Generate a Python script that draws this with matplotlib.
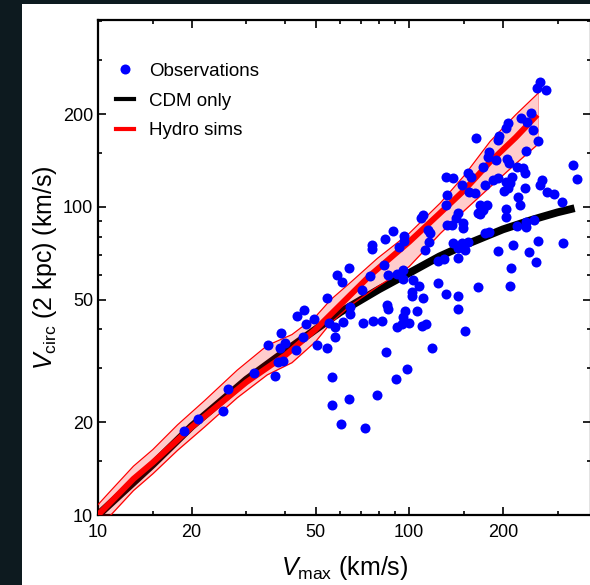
import matplotlib
matplotlib.use("Agg")
import matplotlib.pyplot as plt
from matplotlib.patches import Rectangle
from matplotlib.lines import Line2D
from matplotlib.ticker import FixedLocator, NullFormatter, FixedFormatter

plt.rcParams['font.family'] = ['Liberation Sans', 'DejaVu Sans']
plt.rcParams['mathtext.fontset'] = 'custom'
plt.rcParams['mathtext.rm'] = 'Liberation Sans'
plt.rcParams['mathtext.it'] = 'Liberation Sans:italic'

# ---------------- data ----------------
cdm_x = [10, 15, 20, 30, 40, 50, 60, 80, 100, 125, 150, 200, 250, 300, 340]
cdm_y = [10, 14.6, 19.4, 27.5, 34, 40, 45.5, 54, 61, 69, 75, 84.5, 91, 96, 99]

hydro_x = [10, 13, 15, 20, 30, 40, 50, 60, 75, 100, 125, 150, 182, 220, 258]
hydro_y = [10, 13.1, 14.8, 19.3, 27, 33, 40, 48, 60, 77, 95, 113, 140, 168, 199]

band_x = [10, 11, 13, 15, 18, 22, 28, 35, 42, 50, 56, 65, 79, 100, 126, 150, 182, 220, 260]
band_lo = [9.4, 10.0, 12.0, 13.6, 16.2, 19.3, 24.0, 28.5, 31.2, 36.5, 42, 48, 55, 64, 82, 97, 116, 138, 160]
band_hi = [10.8, 12.0, 14.4, 16.3, 19.6, 23.5, 29.5, 35.5, 38.5, 44, 50, 57, 68, 82, 103, 126, 163, 199, 234]

obs_x = [
    18.9, 21.0, 25.2, 26.2, 31.7, 37.1, 35.2, 38.8, 38.5, 39.9,
    37.9, 39.3, 43.3, 45.6, 43.6, 46.0, 46.6, 49.5, 50.6, 54.5,
    54.5, 55.3, 57.8, 57.8, 61.4, 64.6, 64.6, 70.6, 71.1, 76.6,
    56.5, 56.5, 64.1, 60.4, 72.2, 78.9, 60.9, 58.7, 64.1,
    131, 143, 141, 137.5, 132.5, 149, 149, 167, 173, 175.5,
    111, 115, 117, 116, 112.6, 88.8, 83.7, 96.4, 96.4, 92.9,
    76.0, 76.0, 83.1, 74.9, 85.6, 91.5, 95.7, 95.7, 138.5, 148,
    155, 151, 144, 124, 129.6, 143, 103, 107.7, 124, 102,
    102, 111, 131, 144, 167, 143, 81.9, 85.0, 85.6, 97.1,
    95.7, 95.0, 91.5, 100, 106, 110, 113, 151, 118, 84.4,
    98.5, 90.8, 109,
    264, 258, 276, 247, 229, 240, 250, 208, 204, 195,
    193, 164, 260, 238, 181, 179.5, 190, 207, 210, 173,
    222.5, 233, 236, 155, 158, 131.5, 138.5, 148, 175.5, 186,
    193, 204, 211, 208, 201, 214, 337, 347, 268, 264,
    236, 278, 293, 310, 132.5, 156, 163, 169, 178, 224,
    227.5, 204, 204, 169, 222.5, 238, 252, 238, 181, 260,
    313, 216, 193, 243, 256, 213, 211]
obs_y = [
    18.7, 20.5, 21.8, 25.7, 28.9, 28.3, 35.6, 39.0, 34.8, 36.2,
    31.4, 31.6, 34.3, 37.8, 44.3, 46.3, 41.7, 43.3, 35.6, 34.8,
    50.6, 42.0, 40.8, 37.8, 42.3, 47.3, 44.9, 53.8, 42.0, 42.6,
    28.1, 22.8, 23.8, 19.7, 19.2, 24.5, 57.1, 60.2, 63.4,
    101.5, 95.6, 92.1, 87.4, 87.4, 88.7, 85.5, 95.6, 97.8, 82.3,
    94.2, 84.2, 82.3, 77.0, 72.5, 83.6, 78.7, 80.5, 77.6, 74.2,
    75.3, 73.1, 64.8, 59.7, 60.2, 60.6, 62.4, 58.4, 76.4, 76.4,
    77.0, 72.5, 73.6, 66.8, 67.8, 68.3, 57.9, 55.4, 56.7, 53.0,
    51.4, 50.6, 52.2, 51.4, 55.0, 46.7, 42.6, 48.1, 46.7, 46.0,
    44.0, 41.7, 40.8, 42.0, 46.0, 41.1, 41.7, 39.6, 34.8, 33.8,
    29.8, 27.6, 92.1,
    255, 243, 240, 202, 194.5, 189, 178, 187, 180.5, 170,
    165, 167.5, 164, 152, 151, 145, 142, 143, 139, 135,
    135, 134, 129, 129, 125, 125, 124, 118, 118, 122,
    124, 120.5, 119.6, 115, 112.7, 125, 137, 123, 122, 118,
    115, 112, 110, 104, 109, 112, 111, 101.5, 101.5, 108,
    101.5, 98.5, 92.8, 94.9, 86.7, 89.4, 90.7, 86.1, 83.0, 77.6,
    76.4, 75.3, 71.9, 71.4, 66.3, 63.4, 55.4]

major_ticks = [10, 20, 50, 100, 200]
major_labels = ["10", "20", "50", "100", "200"]
minor_ticks = [15, 30, 40, 60, 70, 80, 90, 150, 300, 400]

legend_labels = ["Observations", "CDM only", "Hydro sims"]

# ---------------- figure ----------------
W, H = 590, 585
fig = plt.figure(figsize=(W / 100, H / 100), dpi=100, facecolor='#0d1a1f')
fig.patches.append(Rectangle((22 / W, 0), 1, (H - 4) / H, transform=fig.transFigure,
                             facecolor='white', edgecolor='none', zorder=-10))

ax = fig.add_axes([98 / W, (H - 515) / H, 493 / W, 495 / H])
ax.set_zorder(5)
ax.set_xscale('log')
ax.set_yscale('log')
ax.set_xlim(10, 384)
ax.set_ylim(10, 404)

ax.plot(cdm_x, cdm_y, color='black', lw=5.6, solid_capstyle='butt', zorder=2)
ax.fill_between(band_x, band_lo, band_hi, color='red', alpha=0.2, lw=0, zorder=3)
ax.plot(band_x, band_lo, color='red', lw=0.9, zorder=3)
ax.plot(band_x, band_hi, color='red', lw=0.9, zorder=3)
ax.plot([band_x[-1], band_x[-1]], [band_lo[-1], band_hi[-1]], color='red', lw=0.5, alpha=0.4, zorder=3)
ax.plot(hydro_x, hydro_y, color='red', lw=4.3, solid_capstyle='butt', zorder=4)
ax.scatter(obs_x, obs_y, s=52, color='#0000ff', linewidths=0, zorder=5)

for axis in (ax.xaxis, ax.yaxis):
    axis.set_major_locator(FixedLocator(major_ticks))
    axis.set_major_formatter(FixedFormatter(major_labels))
    axis.set_minor_locator(FixedLocator(minor_ticks))
    axis.set_minor_formatter(NullFormatter())

ax.tick_params(which='both', direction='in', top=True, right=True, width=1.2, colors='black')
ax.tick_params(which='major', length=5.5, labelsize=13)
ax.tick_params(which='minor', length=3)
ax.tick_params(axis='x', which='major', pad=6.5)
ax.tick_params(axis='y', which='major', pad=3.5)
for sp in ax.spines.values():
    sp.set_linewidth(1.6)

ax.set_xlabel(r'$V_{\mathrm{max}}$ (km/s)', fontsize=18, labelpad=9)
ax.set_ylabel(r'$V_{\mathrm{circ}}$ (2 kpc) (km/s)', fontsize=18, labelpad=3)

handles = [
    Line2D([], [], marker='o', ls='none', color='#0000ff', markersize=7.2, markeredgewidth=0),
    Line2D([], [], color='black', lw=3),
    Line2D([], [], color='red', lw=3),
]
ax.legend(handles, legend_labels, loc='upper left', bbox_to_anchor=(0.036, 0.914),
          frameon=False, fontsize=13.5, handlelength=1.0, handletextpad=0.8,
          labelspacing=0.68, borderpad=0, borderaxespad=0)

fig.savefig('out.png', dpi=100, facecolor=fig.get_facecolor())
